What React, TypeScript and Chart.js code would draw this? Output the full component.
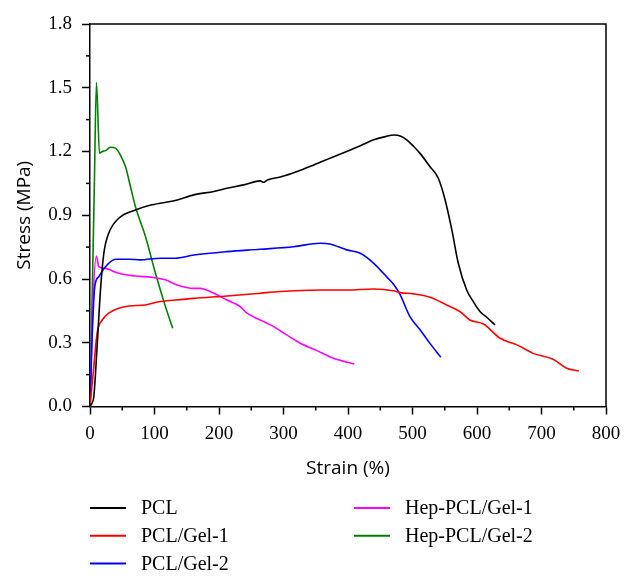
import React, { useEffect, useRef } from 'react';
import { Chart, registerables } from 'chart.js';

Chart.register(...registerables);

// ---- Data ----
const seriesNames = ['PCL', 'PCL/Gel-1', 'PCL/Gel-2', 'Hep-PCL/Gel-1', 'Hep-PCL/Gel-2'];
const seriesColors = ['#000000', '#ff0000', '#0000ff', '#ff00ff', '#008000'];

const pclStrain = [0, 3, 5.9, 11, 16.3, 21.4, 29, 44.6, 70.5, 96, 132, 161, 192, 212.5, 240, 264, 269, 275, 295, 320, 347, 375, 398, 420, 440, 458, 471, 482, 491, 501.5, 512, 527, 540, 550.6, 561, 571, 584, 595, 605, 615, 628];
const pclStress = [0, 0.015, 0.046, 0.28, 0.55, 0.72, 0.815, 0.886, 0.925, 0.949, 0.969, 0.996, 1.012, 1.027, 1.044, 1.062, 1.055, 1.066, 1.08, 1.105, 1.137, 1.172, 1.2, 1.228, 1.255, 1.27, 1.278, 1.272, 1.255, 1.225, 1.19, 1.129, 1.074, 0.972, 0.831, 0.674, 0.548, 0.49, 0.446, 0.42, 0.384];

const gel1Strain = [0, 2.5, 5.9, 11, 19, 29, 44.6, 60, 86, 106.6, 132, 161, 212.5, 264, 290, 357, 398, 440, 470, 481, 501.5, 527, 553, 574, 589, 610, 636, 662, 687, 718, 739, 758];
const gel1Stress = [0, 0.08, 0.187, 0.345, 0.407, 0.439, 0.462, 0.473, 0.478, 0.493, 0.501, 0.509, 0.52, 0.533, 0.54, 0.548, 0.548, 0.553, 0.545, 0.536, 0.53, 0.514, 0.478, 0.446, 0.407, 0.388, 0.321, 0.29, 0.25, 0.222, 0.18, 0.167];

const gel2Strain = [0, 3, 7.4, 13.6, 24, 39.5, 60, 78, 109, 132, 161, 212.5, 264, 315.7, 357, 372, 398, 419, 440, 450, 460, 470.6, 481, 496, 512, 527, 544];
const gel2Stress = [0, 0.3, 0.564, 0.611, 0.658, 0.693, 0.693, 0.69, 0.698, 0.698, 0.713, 0.729, 0.74, 0.752, 0.768, 0.765, 0.737, 0.721, 0.674, 0.643, 0.61, 0.575, 0.525, 0.423, 0.36, 0.297, 0.232];

const hep1Strain = [0, 4, 10, 13.6, 24, 34, 44.6, 70.5, 96, 117, 135, 161, 171, 187, 212.5, 233, 243.5, 264, 280, 305, 326, 352, 377.6, 409.7];
const hep1Stress = [0, 0.45, 0.708, 0.658, 0.65, 0.639, 0.627, 0.614, 0.608, 0.596, 0.572, 0.556, 0.556, 0.54, 0.501, 0.47, 0.439, 0.407, 0.384, 0.337, 0.298, 0.263, 0.227, 0.2];

const hep2Strain = [0, 6.5, 10, 14.7, 19, 24, 31.8, 39.5, 47, 55, 62.7, 70.5, 86, 101.5, 117, 128.3];
const hep2Stress = [0, 1.0, 1.525, 1.192, 1.2, 1.204, 1.22, 1.216, 1.184, 1.129, 1.035, 0.94, 0.8, 0.627, 0.47, 0.368];

const xTickLabels = ['0', '100', '200', '300', '400', '500', '600', '700', '800'];
const yTickLabels = ['0.0', '0.3', '0.6', '0.9', '1.2', '1.5', '1.8'];

const seriesStrain = [pclStrain, gel1Strain, gel2Strain, hep1Strain, hep2Strain];
const seriesStress = [pclStress, gel1Stress, gel2Stress, hep1Stress, hep2Stress];

const SERIF = '"Liberation Serif", "DejaVu Serif", serif';
const SANS = '"Open Sans", "Noto Sans", sans-serif';

const decorPlugin = {
  id: 'decor',
  afterDraw(chart: any) {
    const { ctx, chartArea: a, scales } = chart;
    ctx.save();
    ctx.strokeStyle = '#000';
    ctx.lineWidth = 1.5;
    // top and right frame
    ctx.beginPath();
    ctx.moveTo(a.left, a.top);
    ctx.lineTo(a.right, a.top);
    ctx.lineTo(a.right, a.bottom);
    ctx.stroke();
    // minor ticks
    const xs = scales.x;
    xs.ticks.forEach((t: any, i: number) => {
      if (i % 2 === 1) {
        const px = xs.getPixelForValue(t.value);
        ctx.beginPath();
        ctx.moveTo(px, a.bottom);
        ctx.lineTo(px, a.bottom + 4);
        ctx.stroke();
      }
    });
    const ys = scales.y;
    ys.ticks.forEach((t: any, i: number) => {
      if (i % 2 === 1) {
        const py = ys.getPixelForValue(t.value);
        ctx.beginPath();
        ctx.moveTo(a.left, py);
        ctx.lineTo(a.left - 4, py);
        ctx.stroke();
      }
    });
    // legend (two columns, 3 + 2 rows)
    ctx.font = `20px ${SERIF}`;
    ctx.textBaseline = 'middle';
    ctx.textAlign = 'left';
    chart.data.datasets.forEach((ds: any, i: number) => {
      const col = i < 3 ? 0 : 1;
      const row = i < 3 ? i : i - 3;
      const lx = col === 0 ? 90 : 354;
      const ly = 508 + row * 27.7;
      ctx.strokeStyle = ds.borderColor;
      ctx.lineWidth = 2;
      ctx.beginPath();
      ctx.moveTo(lx, ly);
      ctx.lineTo(lx + 36, ly);
      ctx.stroke();
      ctx.fillStyle = '#000';
      ctx.fillText(ds.label, lx + 51, ly + 1);
    });
    ctx.restore();
  },
};

export default function App() {
  const canvasRef = useRef<HTMLCanvasElement | null>(null);

  useEffect(() => {
    if (!canvasRef.current) return;
    const datasets = seriesNames.map((name, i) => ({
      label: name,
      data: seriesStrain[i].map((x, j) => ({ x, y: seriesStress[i][j] })),
      borderColor: seriesColors[i],
      backgroundColor: seriesColors[i],
      borderWidth: 1.6,
      pointRadius: 0,
      cubicInterpolationMode: 'monotone' as const,
      fill: false,
    }));

    const chart = new Chart(canvasRef.current, {
      type: 'line',
      data: { datasets },
      plugins: [decorPlugin],
      options: {
        responsive: false,
        animation: false,
        devicePixelRatio: 1,
        layout: { padding: { top: 24, right: 30, bottom: 106, left: 0 } },
        plugins: {
          legend: { display: false },
          tooltip: { enabled: false },
        },
        scales: {
          x: {
            type: 'linear',
            min: 0,
            max: 800,
            afterFit: (s: any) => { s.height = 73.5; },
            ticks: {
              stepSize: 50,
              autoSkip: false,
              maxRotation: 0,
              padding: 8,
              color: '#000',
              font: { family: SERIF, size: 19 },
              callback: (_v: any, i: number) => (i % 2 === 0 ? xTickLabels[i / 2] : ''),
            },
            grid: {
              drawOnChartArea: false,
              tickLength: 8,
              tickWidth: 1.5,
              tickColor: (c: any) => (c.index % 2 === 0 ? '#000' : 'rgba(0,0,0,0)'),
            },
            border: { color: '#000', width: 1.5 },
            title: {
              display: true,
              text: 'Strain (%)',
              color: '#000',
              font: { family: SANS, size: 19 },
              padding: { top: 0, bottom: 0 },
            },
          },
          y: {
            type: 'linear',
            min: 0,
            max: 1.8,
            afterFit: (s: any) => { s.width = 90; },
            ticks: {
              stepSize: 0.15,
              autoSkip: false,
              padding: 10,
              color: '#000',
              font: { family: SERIF, size: 19 },
              callback: (_v: any, i: number) => (i % 2 === 0 ? yTickLabels[i / 2] : ''),
            },
            grid: {
              drawOnChartArea: false,
              tickLength: 8,
              tickWidth: 1.5,
              tickColor: (c: any) => (c.index % 2 === 0 ? '#000' : 'rgba(0,0,0,0)'),
            },
            border: { color: '#000', width: 1.5 },
            title: {
              display: true,
              text: 'Stress (MPa)',
              color: '#000',
              font: { family: SANS, size: 19 },
              padding: { top: 13, bottom: 0 },
            },
          },
        },
      },
    });
    return () => chart.destroy();
  }, []);

  return (
    <div style={{ position: 'absolute', left: 0, top: 0, width: 636, height: 586, background: '#fff' }}>
      <canvas ref={canvasRef} width={636} height={586} />
    </div>
  );
}
